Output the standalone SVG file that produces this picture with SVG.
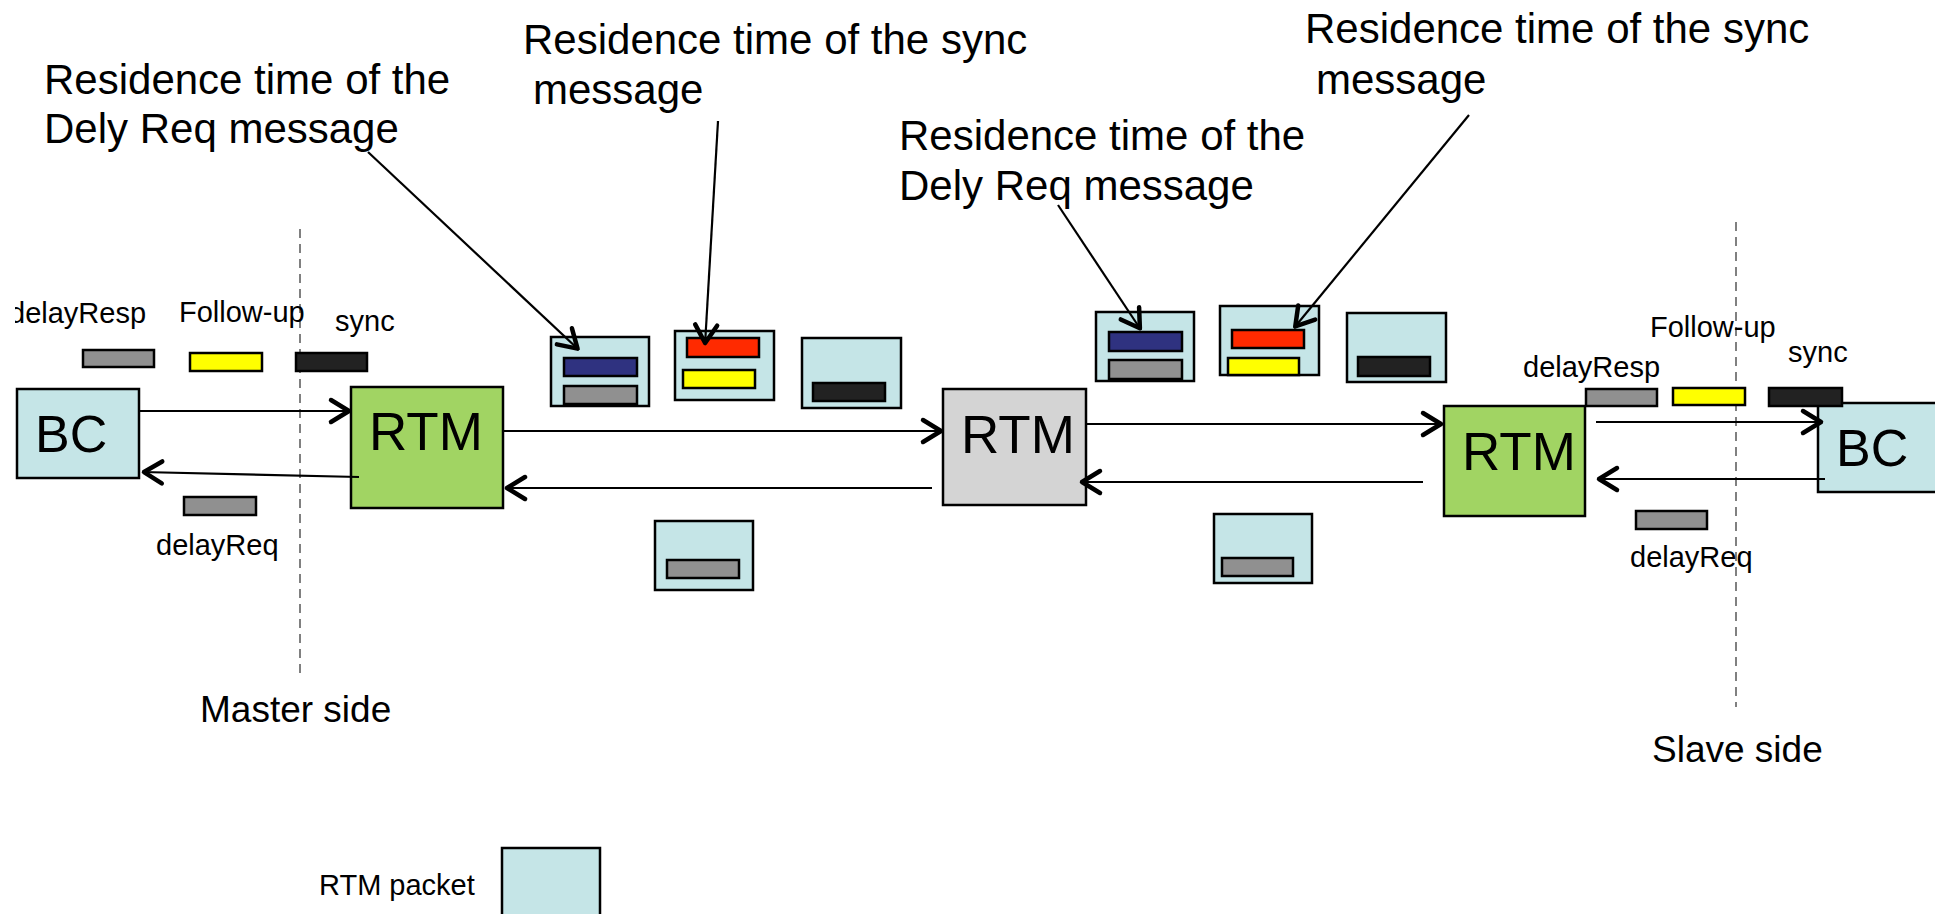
<svg xmlns="http://www.w3.org/2000/svg" width="1944" height="914" viewBox="0 0 1944 914">
<style>
text{font-family:"Liberation Sans",Arial,sans-serif;fill:#000}
.big{font-size:42px}
.sm{font-size:29px}
.side{font-size:37px}
.node{font-size:52px}
.pk{fill:#C5E5E7;stroke:#000;stroke-width:2.5}
.bar{stroke:#000;stroke-width:2.5}
.gy{fill:#909090}
.nv{fill:#2F3280}
.rd{fill:#FF2A00}
.yl{fill:#FFFF00}
.bk{fill:#222222}
.conn{stroke:#000;stroke-width:2.2;fill:none;marker-end:url(#ah)}
.dash{stroke:#808080;stroke-width:2;stroke-dasharray:9 6;fill:none}
</style>
<defs>
<marker id="ah" markerUnits="userSpaceOnUse" viewBox="-26 -15 30 30" markerWidth="30" markerHeight="30" refX="0" refY="0" orient="auto">
<path d="M-20,-11 L-2,0 L-20,11" fill="none" stroke="#000" stroke-width="4.5" stroke-linecap="round" stroke-linejoin="round"/>
</marker>
<clipPath id="leftclip"><rect x="15" y="280" width="200" height="60"/></clipPath>
</defs>
<rect width="1944" height="914" fill="#fff"/>

<g id="dividers">
<line class="dash" x1="300" y1="229" x2="300" y2="673"/>
<line class="dash" x1="1736" y1="222" x2="1736" y2="707"/>
</g>

<g id="labels">
<text class="big" x="44" y="94">Residence time of the</text>
<text class="big" x="44" y="143">Dely Req message</text>
<text class="big" x="523" y="54">Residence time of the sync</text>
<text class="big" x="533" y="104">message</text>
<text class="big" x="899" y="150">Residence time of the</text>
<text class="big" x="899" y="200">Dely Req message</text>
<text class="big" x="1305" y="43">Residence time of the sync</text>
<text class="big" x="1316" y="94">message</text>
<text class="side" x="200" y="722">Master side</text>
<text class="side" x="1652" y="762">Slave side</text>
</g>

<g id="bc-left">
<rect class="pk" x="17" y="389" width="122" height="89"/>
<text class="node" x="35" y="452">BC</text>
</g>
<g id="rtm-left">
<rect x="351" y="387" width="152" height="121" fill="#A1D463" stroke="#000" stroke-width="2.5"/>
<text class="node" x="369" y="450" style="font-size:53px">RTM</text>
</g>
<g id="rtm-mid">
<rect x="943" y="389" width="143" height="116" fill="#D4D4D4" stroke="#000" stroke-width="2.5"/>
<text class="node" x="961" y="453" style="font-size:53px">RTM</text>
</g>
<g id="rtm-right">
<rect x="1444" y="406" width="141" height="110" fill="#A1D463" stroke="#000" stroke-width="2.5"/>
<text class="node" x="1462" y="470" style="font-size:53px">RTM</text>
</g>
<g id="bc-right">
<rect x="1818" y="403" width="117" height="89" fill="#C5E5E7"/>
<path d="M1935,403 H1818 V492 H1935" fill="none" stroke="#000" stroke-width="2.5"/>
<text class="node" x="1836" y="466">BC</text>
</g>

<g id="msgs-left">
<text class="sm" x="9" y="323" clip-path="url(#leftclip)">delayResp</text>
<text class="sm" x="179" y="322">Follow-up</text>
<text class="sm" x="335" y="331">sync</text>
<rect class="bar gy" x="83" y="350" width="71" height="17"/>
<rect class="bar yl" x="190" y="353" width="72" height="18"/>
<rect class="bar bk" x="296" y="353" width="71" height="18"/>
<rect class="bar gy" x="184" y="497" width="72" height="18"/>
<text class="sm" x="156" y="555">delayReq</text>
</g>

<g id="msgs-right">
<text class="sm" x="1523" y="377">delayResp</text>
<text class="sm" x="1650" y="337">Follow-up</text>
<text class="sm" x="1788" y="362">sync</text>
<rect class="bar gy" x="1586" y="389" width="71" height="17"/>
<rect class="bar yl" x="1673" y="388" width="72" height="17"/>
<rect class="bar bk" x="1769" y="388" width="73" height="18"/>
<rect class="bar gy" x="1636" y="511" width="71" height="18"/>
<text class="sm" x="1630" y="567">delayReq</text>
</g>

<g id="packet-1">
<rect class="pk" x="551" y="337" width="98" height="69"/>
<rect class="bar nv" x="564" y="358" width="73" height="18"/>
<rect class="bar gy" x="564" y="386" width="73" height="18"/>
</g>
<g id="packet-2">
<rect class="pk" x="675" y="331" width="99" height="69"/>
<rect class="bar rd" x="687" y="338" width="72" height="19"/>
<rect class="bar yl" x="683" y="370" width="72" height="18"/>
</g>
<g id="packet-3">
<rect class="pk" x="802" y="338" width="99" height="70"/>
<rect class="bar bk" x="813" y="383" width="72" height="18"/>
</g>
<g id="packet-4">
<rect class="pk" x="655" y="521" width="98" height="69"/>
<rect class="bar gy" x="667" y="560" width="72" height="18"/>
</g>
<g id="packet-5">
<rect class="pk" x="1096" y="312" width="98" height="69"/>
<rect class="bar nv" x="1109" y="332" width="73" height="19"/>
<rect class="bar gy" x="1109" y="360" width="73" height="19"/>
</g>
<g id="packet-6">
<rect class="pk" x="1220" y="306" width="99" height="69"/>
<rect class="bar rd" x="1232" y="330" width="72" height="18"/>
<rect class="bar yl" x="1228" y="358" width="71" height="17"/>
</g>
<g id="packet-7">
<rect class="pk" x="1347" y="313" width="99" height="69"/>
<rect class="bar bk" x="1358" y="357" width="72" height="19"/>
</g>
<g id="packet-8">
<rect class="pk" x="1214" y="514" width="98" height="69"/>
<rect class="bar gy" x="1222" y="558" width="71" height="18"/>
</g>

<g id="legend">
<text class="sm" x="319" y="895">RTM packet</text>
<rect class="pk" x="502" y="848" width="98" height="80"/>
</g>

<g id="connectors">
<line class="conn" x1="139" y1="411" x2="351" y2="411"/>
<line class="conn" x1="359" y1="477" x2="142" y2="472"/>
<line class="conn" x1="503" y1="431" x2="943" y2="431"/>
<line class="conn" x1="932" y1="488" x2="505" y2="488"/>
<line class="conn" x1="1086" y1="424" x2="1443" y2="424"/>
<line class="conn" x1="1423" y1="482" x2="1080" y2="482"/>
<line class="conn" x1="1596" y1="422" x2="1823" y2="422"/>
<line class="conn" x1="1825" y1="479" x2="1597" y2="479"/>
<line class="conn" x1="368" y1="152" x2="579" y2="350"/>
<line class="conn" x1="718" y1="121" x2="705" y2="345"/>
<line class="conn" x1="1058" y1="205" x2="1141" y2="330"/>
<line class="conn" x1="1469" y1="115" x2="1294" y2="328"/>
</g>
</svg>
